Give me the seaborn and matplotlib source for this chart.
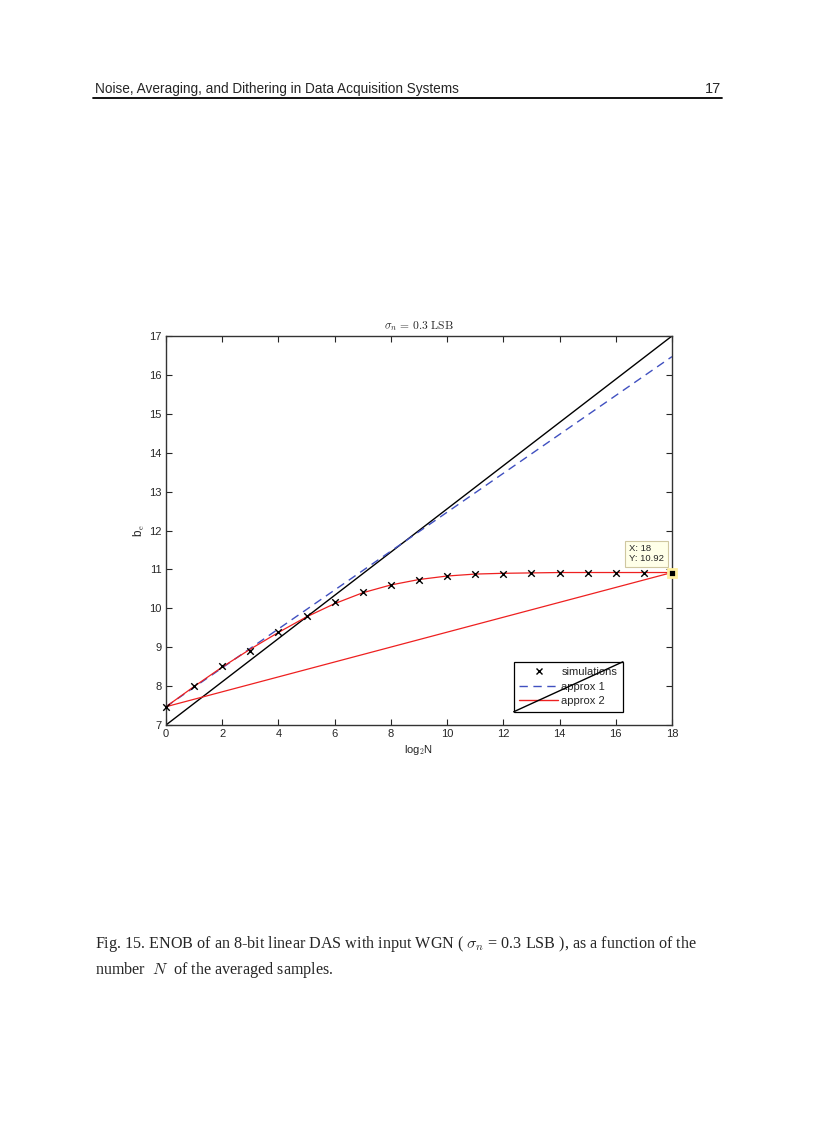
import numpy as np
import pandas as pd
import seaborn as sns
import matplotlib
matplotlib.use("Agg")
import matplotlib.pyplot as plt
from matplotlib.lines import Line2D

# data
log2n = [0, 1, 2, 3, 4, 5, 6, 7, 8, 9, 10, 11, 12, 13, 14, 15, 16, 17, 18]
sim_be = [7.47, 7.99, 8.52, 8.91, 9.40, 9.81, 10.15, 10.43, 10.60, 10.74,
          10.82, 10.87, 10.89, 10.91, 10.92, 10.92, 10.92, 10.92]
sim_x = log2n[:18]
approx1 = [7.47, 7.97, 8.47, 8.97, 9.47, 9.97, 10.47, 10.97, 11.47, 11.97,
           12.47, 12.97, 13.47, 13.97, 14.47, 14.97, 15.47, 15.97, 16.47]
approx2 = [7.47, 7.99, 8.49, 8.95, 9.38, 9.78, 10.12, 10.40, 10.60, 10.74,
           10.83, 10.88, 10.90, 10.91, 10.92, 10.92, 10.92, 10.92, 10.92]
ideal_x = [0, 18]
ideal_y = [7, 17]
chord_x = [0, 18]
chord_y = [7.47, 10.92]
tip_x, tip_y = 18, 10.92

sns.set_style("ticks")
plt.rcParams['font.family'] = ['Liberation Sans', 'DejaVu Sans']
plt.rcParams['mathtext.fontset'] = 'cm'

fig = plt.figure(figsize=(8.16, 11.23), dpi=100)
ax = fig.add_axes([0.2034, 0.3544, 0.6201, 0.3464])

df1 = pd.DataFrame({'x': log2n, 'a1': approx1, 'a2': approx2})
sns.lineplot(x=ideal_x, y=ideal_y, ax=ax, color='black', lw=1.0)
sns.lineplot(data=df1, x='x', y='a1', ax=ax, color='#4050c0', lw=1.0,
             linestyle=(0, (6, 4)))
sns.lineplot(data=df1, x='x', y='a2', ax=ax, color='#ee2020', lw=0.9)
sns.lineplot(x=chord_x, y=chord_y, ax=ax, color='#ee2020', lw=0.9)
sns.scatterplot(x=sim_x, y=sim_be, ax=ax, marker='x', color='black', s=22,
                linewidth=1.0, zorder=5, clip_on=False)

ax.set_xlim(0, 18)
ax.set_ylim(7, 17)
ax.set_xticks(range(0, 19, 2))
ax.set_yticks(range(7, 18))
ax.tick_params(direction='in', top=True, right=True, length=4, width=0.8,
               labelsize=8, pad=3)
for s in ax.spines.values():
    s.set_visible(True)
    s.set_linewidth(1.0)
    s.set_color('#333333')

ax.set_xlabel(r'log$_2$N', fontsize=8, labelpad=3)
ax.set_ylabel(r'b$_\mathrm{e}$', fontsize=8.5, labelpad=2)
ax.set_title(r'$\sigma_n\,=\,0.3\ \mathrm{LSB}$', fontsize=8.3, pad=5)

# datatip
ax.plot([tip_x], [tip_y], marker='s', color='black', ms=6, mec='#fff0a0',
        mew=2.0, clip_on=False, zorder=6)
ax.annotate(f'X: {tip_x}\nY: {tip_y}', xy=(tip_x, tip_y), xytext=(-31, 8),
            textcoords='offset points', fontsize=6.8, linespacing=1.15,
            bbox=dict(boxstyle='square,pad=0.38', fc='#ffffe8', ec='#cfc7a0',
                      lw=0.8), zorder=7)

handles = [
    Line2D([], [], color='black', marker='x', ls='none', ms=4.5, mew=1.0),
    Line2D([], [], color='#4050c0', ls=(0, (6, 4)), lw=1.0),
    Line2D([], [], color='#ee2020', lw=1.0),
]
leg = ax.legend(handles, ['simulations', 'approx 1', 'approx 2'],
                loc='lower right', bbox_to_anchor=(0.903, 0.034), fontsize=8,
                frameon=True, fancybox=False, edgecolor='black',
                framealpha=1, borderpad=0.5, labelspacing=0.4,
                handlelength=3.5, handletextpad=0.3, borderaxespad=0)
leg.get_frame().set_linewidth(0.9)

# page header
fig.text(0.1165, 0.9174, 'Noise, Averaging, and Dithering in Data Acquisition Systems',
         fontsize=9.8, ha='left', va='baseline')
fig.text(0.8835, 0.9174, '17', fontsize=10.5, ha='right', va='baseline')
fig.add_artist(Line2D([0.114, 0.885], [0.9125, 0.9125], color='black', lw=1.3))

# caption
cap_font = ['Liberation Serif', 'DejaVu Serif']
fig.text(0.1165, 0.1558,
         r'Fig. 15. ENOB of an 8-bit linear DAS with input WGN ( $\sigma_n$ = 0.3 LSB ), as a function of the',
         fontsize=11.6, family=cap_font, ha='left', va='baseline')
fig.text(0.1165, 0.1328, r'number  $N$  of the averaged samples.',
         fontsize=11.6, family=cap_font, ha='left', va='baseline')

# diagonal stroke through the legend box, as in the original
fig.canvas.draw()
bb = leg.get_window_extent().transformed(fig.transFigure.inverted())
fig.add_artist(Line2D([bb.x0, bb.x1], [bb.y0, bb.y1], color='black', lw=1.0,
                      zorder=10))

fig.savefig('out.png', dpi=100)
